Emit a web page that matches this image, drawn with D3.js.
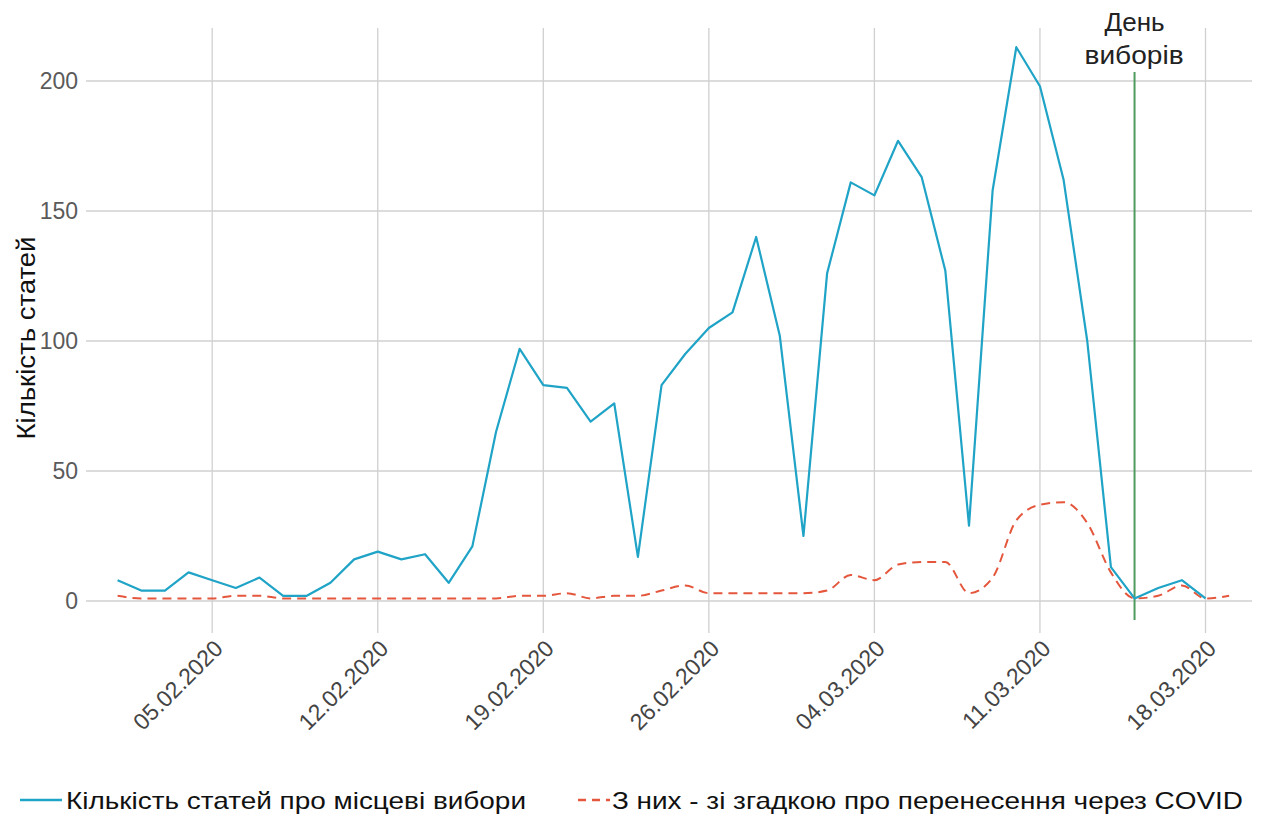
<!DOCTYPE html>
<html>
<head>
<meta charset="utf-8">
<script src="https://cdnjs.cloudflare.com/ajax/libs/d3/7.8.5/d3.min.js"></script>
<style>
  body { margin: 0; background: #fff; }
  svg { display: block; font-family: "Liberation Sans", Arial, sans-serif; }
</style>
</head>
<body>
<svg id="chart" width="1262" height="816"></svg>
<script>
// days of the period (dd.mm.yyyy)
const dates = [
  "01.02.2020","02.02.2020","03.02.2020","04.02.2020","05.02.2020","06.02.2020","07.02.2020",
  "08.02.2020","09.02.2020","10.02.2020","11.02.2020","12.02.2020","13.02.2020","14.02.2020",
  "15.02.2020","16.02.2020","17.02.2020","18.02.2020","19.02.2020","20.02.2020","21.02.2020",
  "22.02.2020","23.02.2020","24.02.2020","25.02.2020","26.02.2020","27.02.2020","28.02.2020",
  "29.02.2020","01.03.2020","02.03.2020","03.03.2020","04.03.2020","05.03.2020","06.03.2020",
  "07.03.2020","08.03.2020","09.03.2020","10.03.2020","11.03.2020","12.03.2020","13.03.2020",
  "14.03.2020","15.03.2020","16.03.2020","17.03.2020","18.03.2020","19.03.2020"
];

// all articles about local elections (ends 18.03)
const articles = [
  8, 4, 4, 11, 8, 5, 9, 2, 2, 7, 16, 19, 16, 18, 7, 21, 65, 97, 83, 82, 69, 76, 17, 83, 95, 105,
  111, 140, 102, 25, 126, 161, 156, 177, 163, 127, 29, 158, 213, 198, 162, 100, 13, 1, 5, 8, 1
];

// of them - mentioning postponement due to COVID (ends 19.03)
const covid = [
  2, 1, 1, 1, 1, 2, 2, 1, 1, 1, 1, 1, 1, 1, 1, 1, 1, 2, 2, 3, 1, 2, 2, 4, 6, 3,
  3, 3, 3, 3, 4, 10, 8, 14, 15, 15, 3, 9, 31, 37, 38, 30, 11, 1, 2, 6, 1, 2
];

const xTicks = ["05.02.2020","12.02.2020","19.02.2020","26.02.2020","04.03.2020","11.03.2020","18.03.2020"];
const yTicks = [0, 50, 100, 150, 200];
const electionDay = "15.03.2020";
const legendLabels = ["Кількість статей про місцеві вибори", "З них - зі згадкою про перенесення через COVID"];

const parse = d3.timeParse("%d.%m.%Y");

const svg = d3.select("#chart");

const x = d3.scaleTime()
  .domain([parse("01.02.2020"), parse("19.03.2020")])
  .range([117.6, 117.6 + 47 * 23.65]);

const y = d3.scaleLinear()
  .domain([0, 200])
  .range([601, 81]);

// grid
svg.append("g")
  .selectAll("line")
  .data(yTicks)
  .join("line")
  .attr("x1", 86).attr("x2", 1252)
  .attr("y1", d => y(d)).attr("y2", d => y(d))
  .attr("stroke", "#d0d0d0").attr("stroke-width", 1.3);

svg.append("g")
  .selectAll("line")
  .data(xTicks)
  .join("line")
  .attr("x1", d => x(parse(d))).attr("x2", d => x(parse(d)))
  .attr("y1", 28).attr("y2", 633)
  .attr("stroke", "#d0d0d0").attr("stroke-width", 1.3);

// y tick labels
svg.append("g")
  .selectAll("text")
  .data(yTicks)
  .join("text")
  .attr("x", 78)
  .attr("y", d => y(d))
  .attr("dy", "0.36em")
  .attr("text-anchor", "end")
  .attr("fill", "#5a5a5a")
  .style("font-size", "23px")
  .text(d => d);

// x tick labels
svg.append("g")
  .selectAll("text")
  .data(xTicks)
  .join("text")
  .attr("transform", d => `translate(${x(parse(d)) + 12},${650}) rotate(-45)`)
  .attr("text-anchor", "end")
  .attr("fill", "#444")
  .style("font-size", "23px")
  .text(d => d);

// y title
svg.append("text")
  .attr("transform", "translate(35,338) rotate(-90)")
  .attr("text-anchor", "middle")
  .attr("fill", "#111")
  .style("font-size", "25px")
  .attr("textLength", 203)
  .attr("lengthAdjust", "spacingAndGlyphs")
  .text("Кількість статей");

// election day line
const ex = x(parse(electionDay));
svg.append("line")
  .attr("x1", ex).attr("x2", ex)
  .attr("y1", 72).attr("y2", 620)
  .attr("stroke", "#4f9a5e").attr("stroke-width", 2);

svg.append("text")
  .attr("x", ex - 30).attr("y", 31)
  .attr("fill", "#222")
  .style("font-size", "25px")
  .attr("textLength", 60)
  .attr("lengthAdjust", "spacingAndGlyphs")
  .text("День");
svg.append("text")
  .attr("x", ex - 50).attr("y", 64)
  .attr("fill", "#222")
  .style("font-size", "25px")
  .attr("textLength", 99)
  .attr("lengthAdjust", "spacingAndGlyphs")
  .text("виборів");

// lines
const lineA = d3.line()
  .x((d, i) => x(parse(dates[i])))
  .y(d => y(d));

const lineC = d3.line()
  .x((d, i) => x(parse(dates[i])))
  .y(d => y(d))
  .curve(d3.curveMonotoneX);

svg.append("path")
  .datum(covid)
  .attr("d", lineC)
  .attr("fill", "none")
  .attr("stroke", "#e4573d")
  .attr("stroke-width", 2)
  .attr("stroke-dasharray", "9,6");

svg.append("path")
  .datum(articles)
  .attr("d", lineA)
  .attr("fill", "none")
  .attr("stroke", "#1fa3c6")
  .attr("stroke-width", 2.2)
  .attr("stroke-linejoin", "round");

// legend
const lg = svg.append("g");
lg.append("line")
  .attr("x1", 20).attr("x2", 62).attr("y1", 800).attr("y2", 800)
  .attr("stroke", "#1fa3c6").attr("stroke-width", 2.5);
lg.append("text")
  .attr("x", 66).attr("y", 809)
  .attr("fill", "#111")
  .style("font-size", "24px")
  .attr("textLength", 460)
  .attr("lengthAdjust", "spacingAndGlyphs")
  .text(legendLabels[0]);

lg.append("line")
  .attr("x1", 578).attr("x2", 610).attr("y1", 800).attr("y2", 800)
  .attr("stroke", "#e4573d").attr("stroke-width", 2.5)
  .attr("stroke-dasharray", "8,6");
lg.append("text")
  .attr("x", 612).attr("y", 809)
  .attr("fill", "#111")
  .style("font-size", "24px")
  .attr("textLength", 631)
  .attr("lengthAdjust", "spacingAndGlyphs")
  .text(legendLabels[1]);
</script>
</body>
</html>
